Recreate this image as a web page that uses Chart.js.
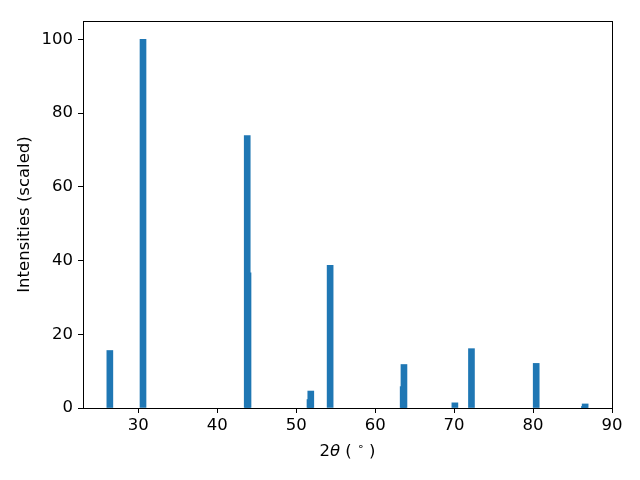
<!DOCTYPE html>
<html lang="en">
<head>
<meta charset="UTF-8">
<title>XRD peaks</title>
<script src="https://cdn.jsdelivr.net/npm/chart.js"></script>
<style>
    body { margin: 0; background: #fff; }
    #wrap { width: 640px; height: 480px; }
</style>
</head>
<body>
<div id="wrap"><canvas id="xrd" width="640" height="480"></canvas></div>
<script>
// main reflections (2theta in degrees, scaled intensity)
const peakAngles = [26.4, 30.6, 43.8, 51.85, 54.3, 63.65, 70.1, 72.2, 80.4, 86.6];
const peakIntensity = [15.6, 100, 73.9, 4.6, 38.7, 11.8, 1.4, 16.1, 12.1, 1.1];
// weaker companion reflections
const sideAngles = [43.9, 51.75, 63.55, 86.5];
const sideIntensity = [36.7, 2.3, 5.8, 0.4];

const xTickValues = [30, 40, 50, 60, 70, 80, 90];
const yTickValues = [0, 20, 40, 60, 80, 100];

const yTitle = 'Intensities (scaled)';
const barColor = '#1f77b4';
const font = 'DejaVu Sans';
const fontSize = 16.5;

function toPoints(xs, ys) {
    return xs.map((x, i) => ({ x: x, y: ys[i] }));
}

// frame + axis titles drawn by hand so they sit like the reference
const framePlugin = {
    id: 'frame',
    afterDraw(chart) {
        const ctx = chart.ctx;
        const a = chart.chartArea;
        ctx.save();
        ctx.strokeStyle = '#000';
        ctx.lineWidth = 1;
        ctx.strokeRect(Math.round(a.left) + 0.5, Math.round(a.top) + 0.5,
            Math.round(a.right - a.left), Math.round(a.bottom - a.top));

        ctx.fillStyle = '#000';
        ctx.textBaseline = 'middle';
        // x title: "2θ (°)" with italic theta and raised degree
        const parts = [
            { t: '2', f: fontSize + 'px ' + font, dy: 0 },
            { t: 'θ', f: 'italic ' + fontSize + 'px ' + font, dy: 0 },
            { t: ' ( ', f: fontSize + 'px ' + font, dy: 0 },
            { t: '∘', f: '11px ' + font, dy: -5 },
            { t: ' )', f: fontSize + 'px ' + font, dy: 0 }
        ];
        let total = 0;
        parts.forEach(p => { ctx.font = p.f; p.w = ctx.measureText(p.t).width; total += p.w; });
        let x = (a.left + a.right) / 2 - total / 2;
        const y = 452;
        ctx.textAlign = 'left';
        parts.forEach(p => { ctx.font = p.f; ctx.fillText(p.t, x, y + p.dy); x += p.w; });

        // y title
        ctx.font = fontSize + 'px ' + font;
        ctx.textAlign = 'center';
        ctx.translate(25, (a.top + a.bottom) / 2);
        ctx.rotate(-Math.PI / 2);
        ctx.fillText(yTitle, 0, 0);
        ctx.restore();
    }
};

const chart = new Chart(document.getElementById('xrd'), {
    type: 'bar',
    data: {
        datasets: [
            { label: 'main', data: toPoints(peakAngles, peakIntensity), backgroundColor: barColor },
            { label: 'side', data: toPoints(sideAngles, sideIntensity), backgroundColor: barColor }
        ]
    },
    options: {
        responsive: false,
        animation: false,
        grouped: false,
        barThickness: 6,
        layout: { padding: { top: 21, right: 28, left: 0, bottom: 0 } },
        plugins: { legend: { display: false }, tooltip: { enabled: false } },
        scales: {
            x: {
                type: 'linear',
                min: 23,
                max: 90,
                offset: false,
                afterFit(s) { s.height = 72; },
                afterBuildTicks(s) { s.ticks = xTickValues.map(v => ({ value: v })); },
                ticks: { color: '#000', font: { family: font, size: fontSize }, padding: 3, maxRotation: 0, autoSkip: false },
                grid: { display: true, offset: false, drawOnChartArea: false, color: '#000', tickLength: 5, tickWidth: 1 },
                border: { display: false }
            },
            y: {
                min: 0,
                max: 105,
                afterFit(s) { s.width = 83; },
                afterBuildTicks(s) { s.ticks = yTickValues.map(v => ({ value: v })); },
                ticks: { color: '#000', font: { family: font, size: fontSize }, padding: 5, autoSkip: false },
                grid: { display: true, offset: false, drawOnChartArea: false, color: '#000', tickLength: 5, tickWidth: 1 },
                border: { display: false }
            }
        }
    },
    plugins: [framePlugin]
});
</script>
</body>
</html>
